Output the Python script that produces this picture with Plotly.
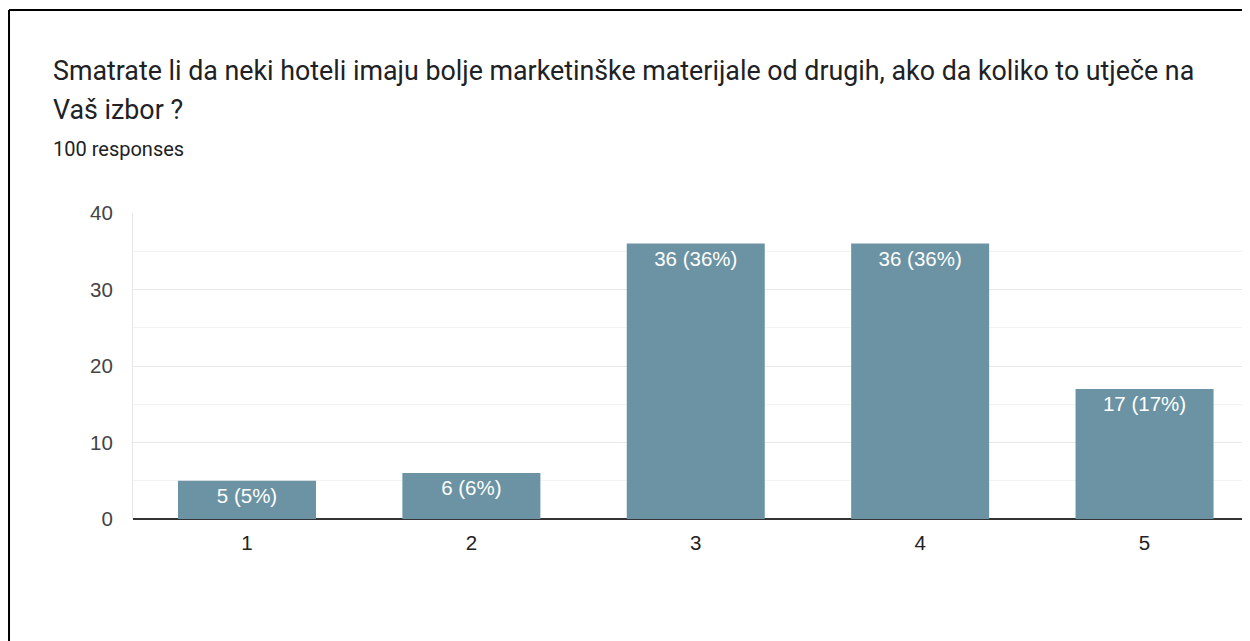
import plotly.graph_objects as go

# survey answers (scale 1-5) and counts
categories = [1, 2, 3, 4, 5]
counts = [5, 6, 36, 36, 17]
total = 100
labels = [f"{c} ({round(c * 100 / total)}%)" for c in counts]
y_ticks = [0, 10, 20, 30, 40]

title_line1 = "Smatrate li da neki hoteli imaju bolje marketinške materijale od drugih, ako da koliko to utječe na"
title_line2 = "Vaš izbor ?"
subtitle = f"{total} responses"

bar_color = "#6b93a3"
title_font = "Roboto, Arial, sans-serif"
chart_font = "Liberation Sans, Arial, sans-serif"

fig = go.Figure(go.Bar(
    x=categories,
    y=counts,
    width=0.615,
    text=labels,
    textposition="inside",
    insidetextanchor="end",
    textangle=0,
    textfont=dict(color="white", size=20.5, family=chart_font),
    marker=dict(color=bar_color, line=dict(width=0)),
    hoverinfo="skip",
))

# the page body has an 8px margin, so the figure is sized to fill the rest
fig.update_layout(
    width=1242,
    height=633,
    margin=dict(l=125, r=0, t=205, b=122),
    paper_bgcolor="white",
    plot_bgcolor="white",
    showlegend=False,
    font=dict(family=chart_font, color="#222222"),
    uniformtext=dict(minsize=20, mode="show"),
    xaxis=dict(
        range=[0.492, 5.470],
        tickvals=categories,
        ticktext=[str(c) for c in categories],
        tickfont=dict(size=20.5, color="#222222", family=chart_font),
        ticks="outside", ticklen=5, tickcolor="rgba(0,0,0,0)",
        showgrid=False, zeroline=False, showline=False,
        fixedrange=True,
    ),
    yaxis=dict(
        range=[0, 40],
        tickvals=y_ticks,
        tickfont=dict(size=20.5, color="#444444", family=chart_font),
        ticks="outside", ticklen=15, tickcolor="rgba(0,0,0,0)",
        showgrid=True, gridcolor="#e8e8e8", gridwidth=1,
        minor=dict(dtick=5, showgrid=True, gridcolor="#f3f3f3", gridwidth=1),
        zeroline=True, zerolinecolor="#333333", zerolinewidth=1.5,
        showline=True, linecolor="#e8e8e8", linewidth=1,
        fixedrange=True,
    ),
    annotations=[
        dict(text=title_line1, xref="paper", yref="paper", x=-0.0734, y=1.464,
             xanchor="left", yanchor="middle", showarrow=False,
             font=dict(size=26.8, color="#202124", family=title_font)),
        dict(text=title_line2, xref="paper", yref="paper", x=-0.0734, y=1.338,
             xanchor="left", yanchor="middle", showarrow=False,
             font=dict(size=26.8, color="#202124", family=title_font)),
        dict(text=subtitle, xref="paper", yref="paper", x=-0.0734, y=1.210,
             xanchor="left", yanchor="middle", showarrow=False,
             font=dict(size=20, color="#202124", family=title_font)),
    ],
    shapes=[
        # outer frame of the screenshot (top and left edges)
        dict(type="line", xref="paper", yref="paper", x0=-0.111, x1=1.0,
             y0=1.663, y1=1.663, line=dict(color="black", width=2)),
        dict(type="line", xref="paper", yref="paper", x0=-0.111, x1=-0.111,
             y0=1.663, y1=-0.41, line=dict(color="black", width=2)),
    ],
)

fig.write_html("out.html")
